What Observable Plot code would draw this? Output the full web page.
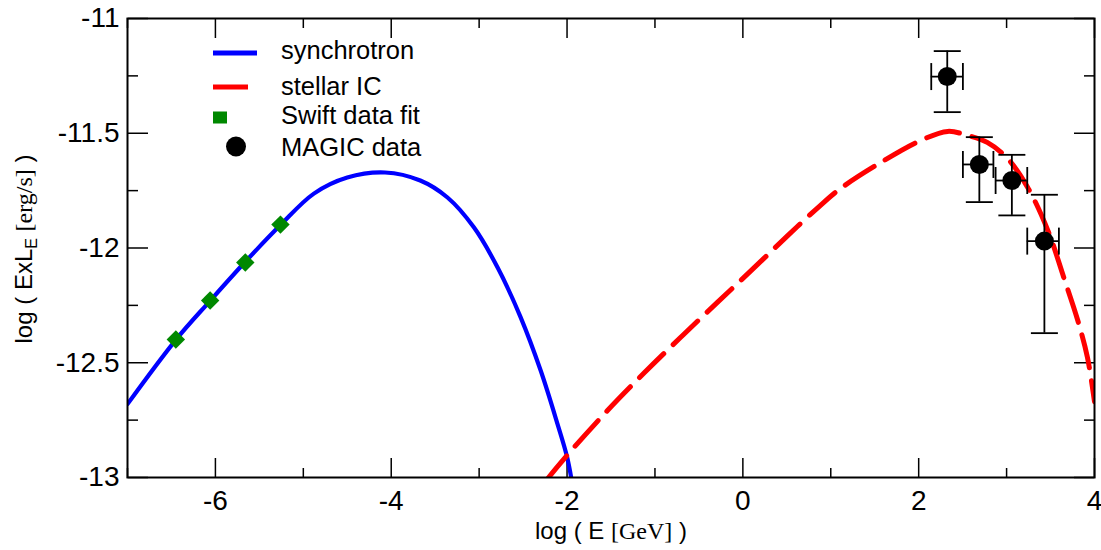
<!DOCTYPE html>
<html>
<head>
<meta charset="utf-8">
<script src="https://cdn.jsdelivr.net/npm/d3@7"></script>
<script src="https://cdn.jsdelivr.net/npm/@observablehq/plot@0.6"></script>
<style>
  html, body { margin: 0; padding: 0; background: #fff; }
  #chart { width: 1101px; height: 550px; overflow: hidden; }
</style>
</head>
<body>
<div id="chart"></div>
<script>
// ---- data ----
const synchX = [-7.0, -6.45, -6.06, -5.66, -5.26, -4.88, -4.5, -4.07, -3.67, -3.36, -3.06, -2.79, -2.53, -2.30, -2.11, -2.0, -1.94];
const synchY = [-12.68, -12.40, -12.23, -12.06, -11.90, -11.763, -11.693, -11.671, -11.706, -11.78, -11.91, -12.085, -12.30, -12.534, -12.765, -12.91, -13.03];

const icX = [-2.25, -2.21, -1.98, -1.54, -1.13, -0.71, -0.29, 0.12, 0.51, 0.88, 1.11, 1.57, 2.02, 2.33, 2.56, 2.78, 3.01, 3.24, 3.47, 3.65, 3.81, 3.92, 4.0];
const icY = [-13.02, -13.0, -12.895, -12.708, -12.547, -12.39, -12.237, -12.089, -11.946, -11.815, -11.741, -11.627, -11.532, -11.492, -11.51, -11.54, -11.61, -11.736, -11.924, -12.128, -12.316, -12.477, -12.67];

const swiftX = [-6.45, -6.06, -5.66, -5.26];
const swiftY = [-12.399, -12.229, -12.063, -11.898];

const magicX   = [2.325, 2.69, 3.06, 3.43];
const magicY   = [-11.253, -11.636, -11.706, -11.97];
const magicYLo = [-11.408, -11.80, -11.858, -12.371];
const magicYHi = [-11.142, -11.517, -11.594, -11.768];
const magicXLo = [2.143, 2.503, 2.875, 3.235];
const magicXHi = [2.503, 2.85, 3.235, 3.595];

const xMajor = [-6, -4, -2, 0, 2, 4];
const xMinor = [-7, -5, -3, -1, 1, 3];
const yMajor = [-13, -12.5, -12, -11.5, -11];
const yMinor = [-12.75, -12.25, -11.75, -11.25];

const legendLabels = ["synchrotron", "stellar IC", "Swift data fit", "MAGIC data"];
const xTitle = ["log ( E ", "[GeV]", " )"];
const yTitle = ["log ( ExL", "E", " ", "[erg/s]", " )"];

// ---- tables ----
const synch = synchX.map((x, i) => ({x, y: synchY[i]}));
const ic = icX.map((x, i) => ({x, y: icY[i]}));
const swift = swiftX.map((x, i) => ({x, y: swiftY[i]}));
const magic = magicX.map((x, i) => ({x, y: magicY[i], ylo: magicYLo[i], yhi: magicYHi[i], xlo: magicXLo[i], xhi: magicXHi[i]}));
const vCaps = magic.flatMap(d => [{x: d.x, y: d.ylo}, {x: d.x, y: d.yhi}]);
const hCaps = magic.flatMap(d => [{x: d.xlo, y: d.y}, {x: d.xhi, y: d.y}]);

const hLine = {draw(ctx, size) { const w = Math.sqrt(size / Math.PI); ctx.moveTo(-w, 0); ctx.lineTo(w, 0); }};
const vLine = {draw(ctx, size) { const w = Math.sqrt(size / Math.PI); ctx.moveTo(0, -w); ctx.lineTo(0, w); }};

const SANS = "'Liberation Sans', Arial, Helvetica, sans-serif";
const SERIF = "'Liberation Serif', 'Times New Roman', serif";
const fmt = d => String(d);
const blank = () => "";

const W = 1101, H = 550, ML = 127, MR = 7, MT = 18, MB = 73;
const FW = W - ML - MR;   // frame width
const FH = H - MT - MB;   // frame height
const tk = {label: null, tickFormat: blank, strokeWidth: 1.5};

const chart = Plot.plot({
  width: W,
  height: H,
  marginLeft: ML,
  marginRight: MR,
  marginTop: MT,
  marginBottom: MB,
  x: {domain: [-7, 4]},
  y: {domain: [-13, -11]},
  style: {fontFamily: SANS, color: "black", background: "white", overflow: "visible"},
  marks: [
    // tick labels
    Plot.axisX({ticks: xMajor, anchor: "bottom", tickSize: 0, tickPadding: 13, tickFormat: fmt, fontSize: 28, label: null}),
    Plot.axisY({ticks: yMajor, anchor: "left", tickSize: 0, tickPadding: 8, tickFormat: fmt, fontSize: 28, label: null}),
    // inward ticks: bottom edge (top-anchored ticks shifted down by the frame height)
    Plot.axisX({...tk, ticks: xMajor, anchor: "top", tickSize: 20, dy: FH}),
    Plot.axisX({...tk, ticks: xMinor, anchor: "top", tickSize: 10, dy: FH}),
    // top edge
    Plot.axisX({...tk, ticks: xMajor, anchor: "bottom", tickSize: 20, dy: -FH}),
    Plot.axisX({...tk, ticks: xMinor, anchor: "bottom", tickSize: 10, dy: -FH}),
    // left edge
    Plot.axisY({...tk, ticks: yMajor, anchor: "right", tickSize: 20, dx: -FW}),
    Plot.axisY({...tk, ticks: yMinor, anchor: "right", tickSize: 10, dx: -FW}),
    // right edge
    Plot.axisY({...tk, ticks: yMajor, anchor: "left", tickSize: 20, dx: FW}),
    Plot.axisY({...tk, ticks: yMinor, anchor: "left", tickSize: 10, dx: FW}),

    // synchrotron
    Plot.line(synch, {x: "x", y: "y", stroke: "#0000ff", strokeWidth: 4.2, curve: "catmull-rom", clip: true}),
    // stellar IC
    Plot.line(ic, {x: "x", y: "y", stroke: "#ff0000", strokeWidth: 5, strokeDasharray: "34,13", curve: "catmull-rom", clip: true}),
    // Swift
    Plot.dot(swift, {x: "x", y: "y", symbol: "diamond2", r: 8.3, fill: "#008800", stroke: "none"}),
    // MAGIC error bars
    Plot.ruleX(magic, {x: "x", y1: "ylo", y2: "yhi", stroke: "black", strokeWidth: 1.8}),
    Plot.ruleY(magic, {y: "y", x1: "xlo", x2: "xhi", stroke: "black", strokeWidth: 1.8}),
    Plot.dot(vCaps, {x: "x", y: "y", symbol: hLine, r: 13.5, fill: "none", stroke: "black", strokeWidth: 1.8}),
    Plot.dot(hCaps, {x: "x", y: "y", symbol: vLine, r: 13.5, fill: "none", stroke: "black", strokeWidth: 1.8}),
    Plot.dot(magic, {x: "x", y: "y", r: 9.5, fill: "black", stroke: "none"}),

    Plot.frame({stroke: "black", strokeWidth: 2})
  ]
});

document.getElementById("chart").appendChild(chart);

// ---- legend and axis titles ----
const svg = d3.select(chart);
const g = svg.append("g").attr("font-family", SANS).attr("fill", "black").attr("text-anchor", "start");

// legend
const lg = g.append("g").attr("font-size", 25.5).attr("text-anchor", "start");
lg.append("line").attr("x1", 213).attr("x2", 257).attr("y1", 53).attr("y2", 53).attr("stroke", "#0000ff").attr("stroke-width", 5);
lg.append("line").attr("x1", 213).attr("x2", 248).attr("y1", 87).attr("y2", 87).attr("stroke", "#ff0000").attr("stroke-width", 5);
lg.append("rect").attr("x", 213).attr("y", 111.5).attr("width", 14).attr("height", 12).attr("fill", "#008800");
lg.append("circle").attr("cx", 236).attr("cy", 146.5).attr("r", 10).attr("fill", "black");
const baselines = [59, 95, 124, 156];
legendLabels.forEach((t, i) => {
  lg.append("text").attr("x", 281).attr("y", baselines[i]).attr("text-anchor", "start").text(t);
});

// x title
const xt = g.append("text").attr("x", 611).attr("y", 539).attr("text-anchor", "middle").attr("font-size", 24).style("white-space", "pre");
xt.append("tspan").attr("font-family", SANS).text(xTitle[0]);
xt.append("tspan").attr("font-family", SERIF).text(xTitle[1]);
xt.append("tspan").attr("font-family", SANS).text(xTitle[2]);

// y title
const yt = g.append("text").attr("transform", "translate(32,249) rotate(-90)").attr("text-anchor", "middle").attr("font-size", 24).style("white-space", "pre");
yt.append("tspan").attr("font-family", SANS).text(yTitle[0]);
yt.append("tspan").attr("font-family", SANS).attr("font-size", 16).attr("dy", 5).text(yTitle[1]);
yt.append("tspan").attr("font-family", SANS).attr("dy", -5).text(yTitle[2]);
yt.append("tspan").attr("font-family", SERIF).text(yTitle[3]);
yt.append("tspan").attr("font-family", SANS).text(yTitle[4]);
</script>
</body>
</html>
